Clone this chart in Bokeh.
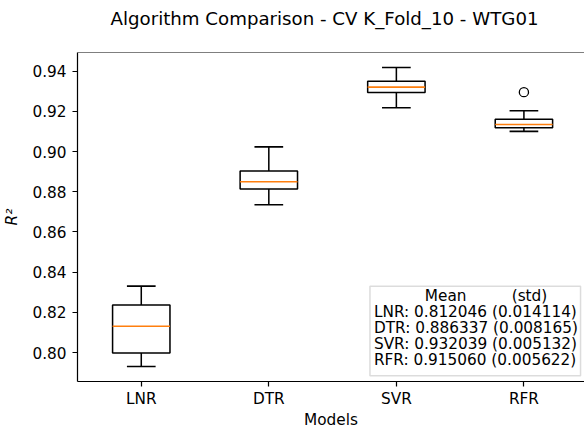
from bokeh.plotting import figure
from bokeh.models import Range1d, FixedTicker, NumeralTickFormatter, Span, BoxAnnotation, Label, ColumnDataSource
from bokeh.embed import file_html
from bokeh.resources import INLINE

# ---- data ----
models = ["LNR", "DTR", "SVR", "RFR"]
whisker_low = [0.7931, 0.8735, 0.9217, 0.9100]
q1 = [0.7999, 0.8814, 0.9293, 0.9118]
median = [0.8132, 0.8850, 0.9320, 0.9134]
q3 = [0.8237, 0.8903, 0.9349, 0.9160]
whisker_high = [0.8331, 0.9023, 0.9418, 0.9202]
outlier_model = ["RFR"]
outlier_value = [0.9295]
means = [0.812046, 0.886337, 0.932039, 0.915060]
stds = [0.014114, 0.008165, 0.005132, 0.005622]
y_ticks = [0.80, 0.82, 0.84, 0.86, 0.88, 0.90, 0.92, 0.94]
title_text = "Algorithm Comparison - CV K_Fold_10 - WTG01"

FONT = "DejaVu Sans"
FS = "15.3px"
BOX_W = 0.45
LW = 1.53
SPINE = 1.22

pos = [i + 1 for i in range(len(models))]
src = ColumnDataSource(dict(
    x=pos,
    left=[x - BOX_W / 2 for x in pos],
    right=[x + BOX_W / 2 for x in pos],
    capl=[x - BOX_W / 4 for x in pos],
    capr=[x + BOX_W / 4 for x in pos],
    lo=whisker_low, q1=q1, med=median, q3=q3, hi=whisker_high,
))

y0, y1 = 0.7857, 0.9492
p = figure(width=584, height=431, output_backend="svg", toolbar_location=None,
           x_range=Range1d(0.5, 4.475), y_range=Range1d(y0, y1),
           min_border_left=76, min_border_right=0, min_border_top=52, min_border_bottom=49,
           title=title_text + "\n ")
p.outline_line_color = None
p.xgrid.visible = False
p.ygrid.visible = False
p.background_fill_color = "white"
p.border_fill_color = "white"

p.title.text_font = FONT
p.title.text_font_size = "18.2px"
p.title.text_font_style = "normal"
p.title.text_color = "black"
p.title.align = "left"
p.title.standoff = 6
p.title.offset = 33

for ax in (p.xaxis[0], p.yaxis[0]):
    ax.axis_line_color = "black"
    ax.axis_line_width = SPINE
    ax.major_tick_line_color = "black"
    ax.major_tick_line_width = SPINE
    ax.major_tick_out = 5
    ax.major_tick_in = 0
    ax.minor_tick_line_color = None
    ax.major_label_text_font = FONT
    ax.major_label_text_font_size = FS
    ax.major_label_text_color = "black"
    ax.axis_label_text_font = FONT
    ax.axis_label_text_font_size = FS
    ax.axis_label_text_color = "black"

p.xaxis.ticker = FixedTicker(ticks=pos)
p.xaxis.major_label_overrides = {x: m for x, m in zip(pos, models)}
p.xaxis.major_label_standoff = 3
p.xaxis.axis_label = "Models"
p.xaxis.axis_label_text_font_style = "normal"
p.xaxis.axis_label_standoff = 0

p.yaxis.ticker = FixedTicker(ticks=y_ticks)
p.yaxis.formatter = NumeralTickFormatter(format="0.00")
p.yaxis.major_label_standoff = 6
p.yaxis.axis_label = "R²"
p.yaxis.axis_label_text_font_style = "italic"
p.yaxis.axis_label_standoff = 8

# top spine
p.add_layout(Span(location=y1, dimension="width", line_color="black", line_width=SPINE))

# boxes
p.quad(left="left", right="right", bottom="q1", top="q3", source=src,
       fill_color=None, line_color="black", line_width=LW)
p.segment(x0="x", y0="q3", x1="x", y1="hi", source=src, line_color="black", line_width=LW)
p.segment(x0="x", y0="q1", x1="x", y1="lo", source=src, line_color="black", line_width=LW)
p.segment(x0="capl", y0="hi", x1="capr", y1="hi", source=src, line_color="black", line_width=LW)
p.segment(x0="capl", y0="lo", x1="capr", y1="lo", source=src, line_color="black", line_width=LW)
p.segment(x0="left", y0="med", x1="right", y1="med", source=src, line_color="#ff7f0e", line_width=LW)

# outliers
ox = [pos[models.index(m)] for m in outlier_model]
p.scatter(ox, outlier_value, marker="circle", size=9.2, fill_color=None,
          line_color="black", line_width=1.3)

# text box (mean / std)
p.add_layout(BoxAnnotation(left=2.793, right=4.444, bottom=0.7886, top=0.8330,
                           fill_color="white", fill_alpha=1.0, line_color="#8a8a8a",
                           line_width=1.5))
lines_y = [0.8202, 0.8122, 0.8043, 0.7964]
p.add_layout(Label(x=3.223, y=0.8281, text="Mean", text_font=FONT, text_font_size=FS,
                   text_baseline="middle", text_color="black"))
p.add_layout(Label(x=3.904, y=0.8281, text="(std)", text_font=FONT, text_font_size=FS,
                   text_baseline="middle", text_color="black"))
for m, mu, sd, yy in zip(models, means, stds, lines_y):
    p.add_layout(Label(x=2.824, y=yy, text=f"{m}: {mu:.6f} ({sd:.6f})", text_font=FONT,
                       text_font_size=FS, text_baseline="middle", text_color="black"))

open("out.html", "w").write(file_html(p, INLINE))
